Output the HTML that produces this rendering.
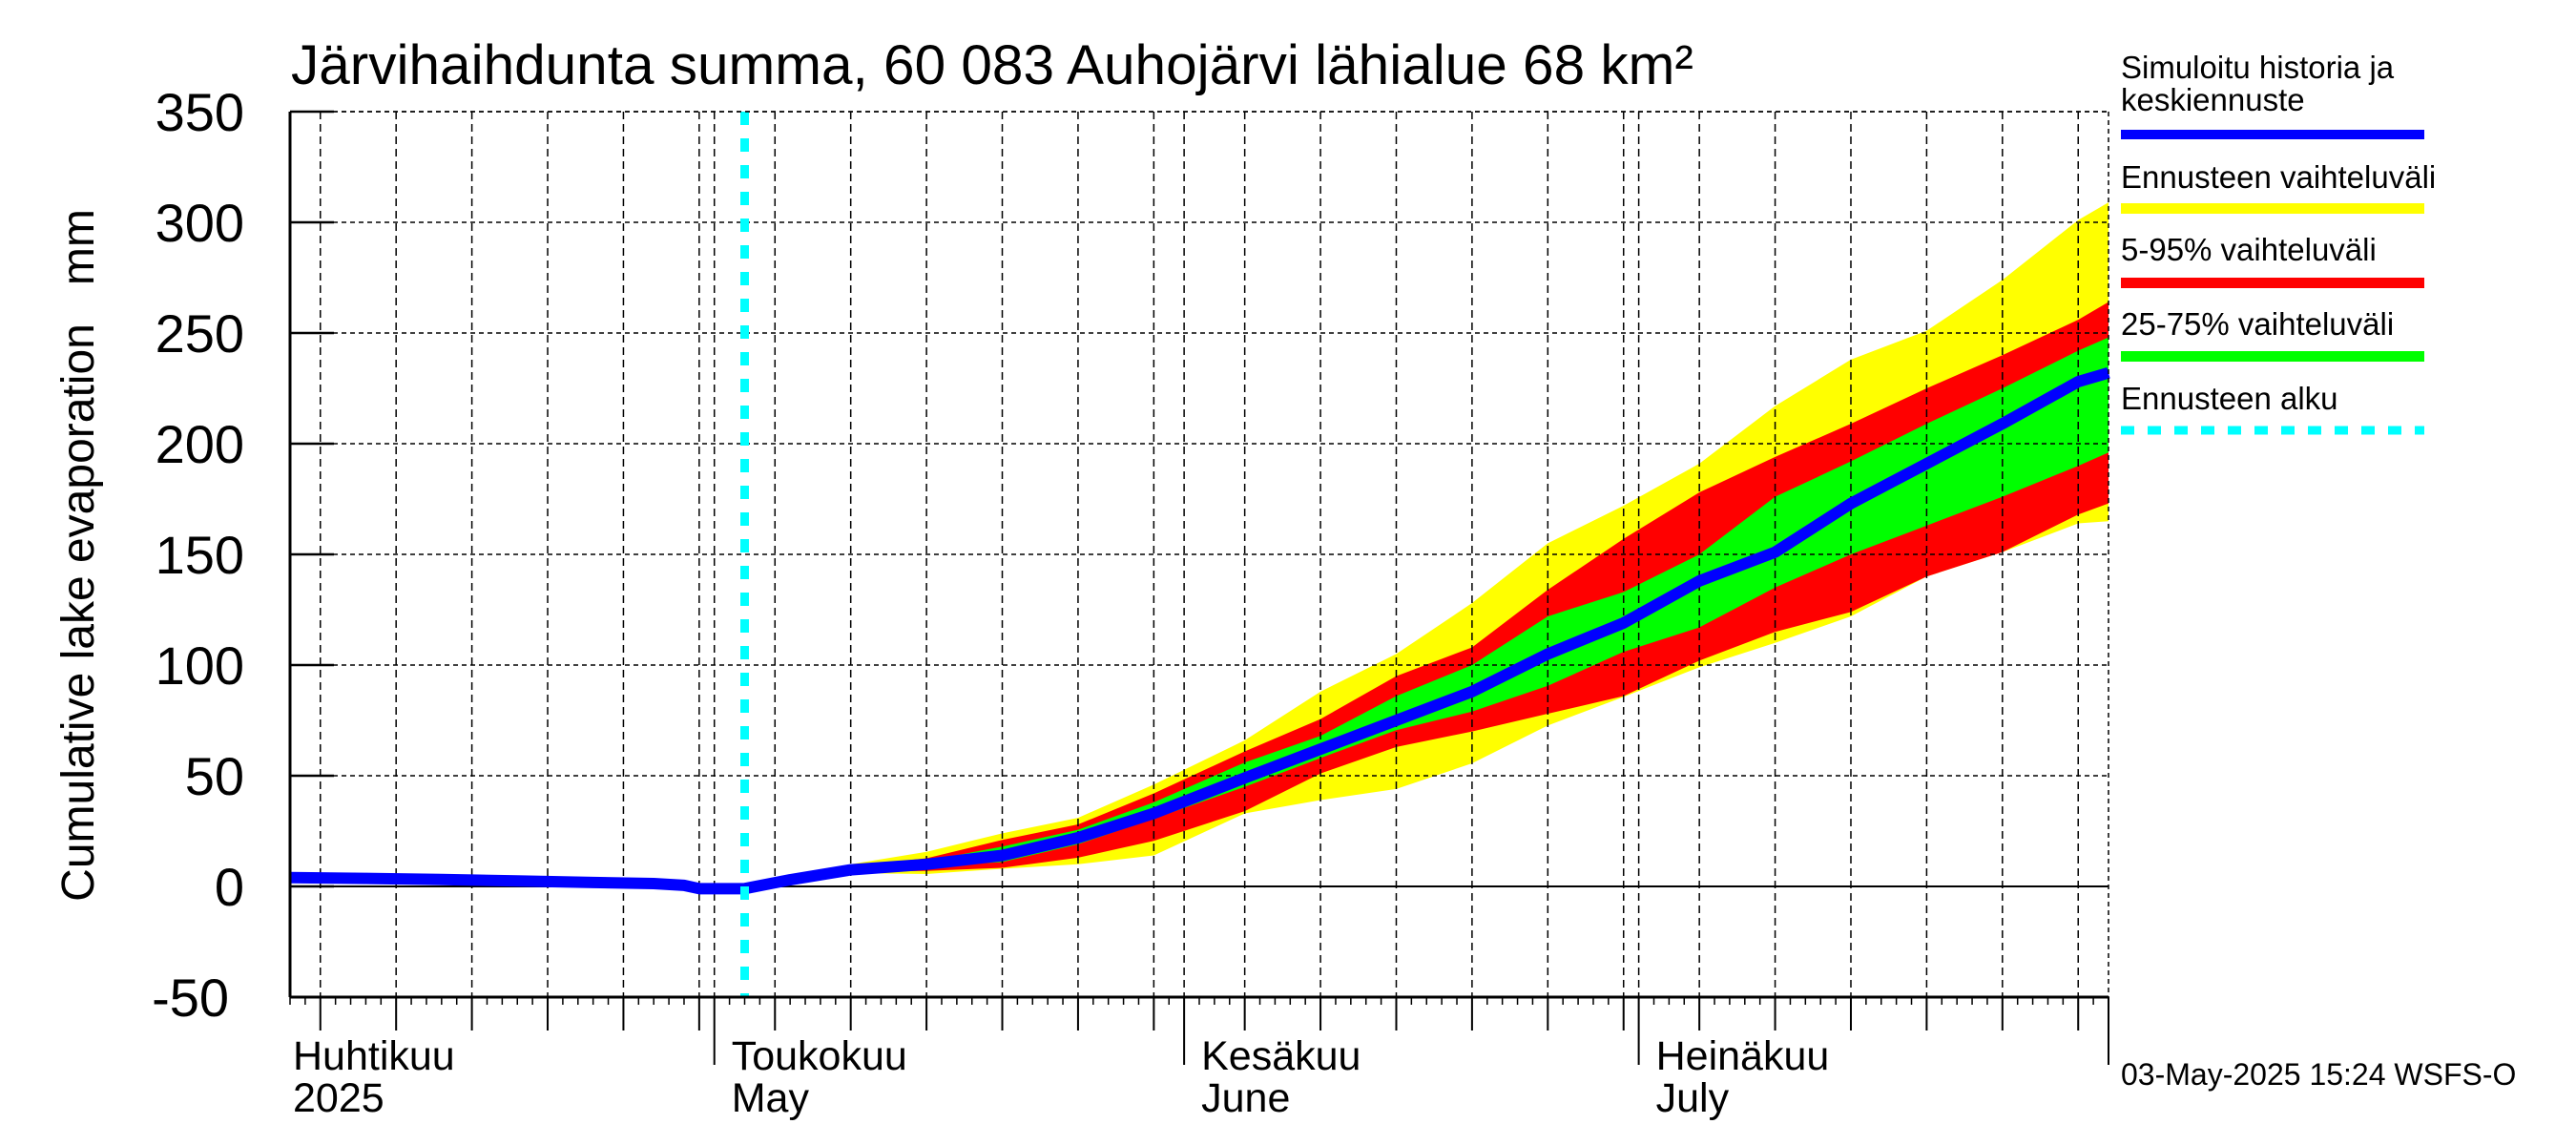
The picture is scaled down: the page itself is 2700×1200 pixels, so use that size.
<!DOCTYPE html>
<html><head><meta charset="utf-8"><style>
html,body{margin:0;padding:0;background:#fff;}
svg{display:block;font-family:"Liberation Sans",sans-serif;}
</style></head><body>
<svg id="chart" width="2700" height="1200" viewBox="0 0 2700 1200" xmlns="http://www.w3.org/2000/svg">
<text x="305" y="88" font-size="58.5">Järvihaihdunta summa, 60 083 Auhojärvi lähialue 68 km²</text>
<text transform="translate(98,582) rotate(-90)" text-anchor="middle" font-size="48" style="white-space:pre">Cumulative lake evaporation   mm</text>
<g id="bands"></g>
<g id="grid"></g>
<g id="lines"></g>
<g id="axes"></g>
<g>
<text x="2223" y="82" font-size="33">Simuloitu historia ja</text>
<text x="2223" y="116" font-size="33">keskiennuste</text>
<rect x="2223" y="136" width="318" height="10" fill="#0000ff"/>
<text x="2223" y="197" font-size="33">Ennusteen vaihteluväli</text>
<rect x="2223" y="213" width="318" height="11" fill="#ffff00"/>
<text x="2223" y="273" font-size="33">5-95% vaihteluväli</text>
<rect x="2223" y="291" width="318" height="11" fill="#ff0000"/>
<text x="2223" y="351" font-size="33">25-75% vaihteluväli</text>
<rect x="2223" y="368" width="318" height="11" fill="#00ff00"/>
<text x="2223" y="429" font-size="33">Ennusteen alku</text>
<line x1="2223" y1="451" x2="2541" y2="451" stroke="#00ffff" stroke-width="9" stroke-dasharray="14,14"/>
</g>
<text x="2223" y="1137" font-size="32">03-May-2025 15:24 WSFS-O</text>
</svg>
<script>
// day index 0 = Apr 3 2025, 120 = Aug 1 2025
const histDays = [0,5,10,15,20,24,26,27,30];
const histVals = [4,3.6,3.1,2.5,1.8,1.3,0.5,-1,-1];
const fcDays = [30,33,37,42,47,52,57,63,68,73,78,83,88,93,98,103,108,113,118,120];
const median = [-1,3,7.5,10,14,22,33,49,62,75,88,105,119,138,151,173,191,209,228,232];
const yellowTop = [-1,3.5,10,15.6,24,31,46,66,88,105,128,155,172,191,217,238,251,274,301,309];
const redTop = [-1,3,9,12.7,21,28,42,61,75.6,95,108,134,157,178,194,209,225,240,256,264];
const greenTop = [-1,3,8.5,11.5,18,25.6,38,56,68,86,100,122,133,150,176,192,209,225,242,248];
const greenBot = [-1,3,7,9,11,19,30.6,45,58,70.6,79,90.6,106,117,135,150,163,176,190,196];
const redBot = [-1,3,6.5,7,8.4,13,20.6,34,51,63,70,78,86,102,115,124,140,151,168,173];
const yellowBot = [-1,3,6,5.6,8,10,14,33,39,44,55.6,72.7,85.6,99,110,122,140,151,164,165];
const yTicks = [-50,0,50,100,150,200,250,300,350];
const monthStarts = [-2,28,59,89,120];
const monthFi = ["Huhtikuu","Toukokuu","Kesäkuu","Heinäkuu"];
const monthEn = ["2025","May","June","July"];
const forecastStartDay = 30;

const L=304,R=2210,T=117,B=1045,NDAYS=120,YMIN=-50,YMAX=350;
const X=d=>L+(d/NDAYS)*(R-L);
const Y=v=>B-(v-YMIN)/(YMAX-YMIN)*(B-T);
const NS="http://www.w3.org/2000/svg";
function mk(tag,attrs,parent){const e=document.createElementNS(NS,tag);for(const k in attrs)e.setAttribute(k,attrs[k]);parent.appendChild(e);return e;}
const bands=document.getElementById('bands'),grid=document.getElementById('grid'),lines=document.getElementById('lines'),axes=document.getElementById('axes');
function band(top,bot,color,name){
  let p=fcDays.map((d,i)=>X(d)+','+Y(top[i]));
  for(let i=fcDays.length-1;i>=0;i--)p.push(X(fcDays[i])+','+Y(bot[i]));
  const e=mk('polygon',{points:p.join(' '),fill:color},bands);
  
  
}
band(yellowTop,yellowBot,'#ffff00','band-full-range');
band(redTop,redBot,'#ff0000','band-5-95');
band(greenTop,greenBot,'#00ff00','band-25-75');
yTicks.forEach(v=>{
  if(v===YMIN)return;
  const g=mk('line',{x1:L,x2:R,y1:Y(v),y2:Y(v),stroke:'#000','stroke-width':v===0?2:1.5,'stroke-dasharray':v===0?'none':'5,4'},grid);
  
  
  const t=mk('line',{x1:L,x2:L+46,y1:Y(v),y2:Y(v),stroke:'#000','stroke-width':2.5},axes);
  
  
  const lb=mk('text',{x:256,y:Y(v)+20,'text-anchor':'end','font-size':56},axes);
  lb.textContent=v;
  
  
});
{const lb=mk('text',{x:240,y:Y(-50)+20,'text-anchor':'end','font-size':56},axes);lb.textContent='-50';

}
for(let d=0;d<=NDAYS;d++){
  let mi=0;for(let k=0;k<monthStarts.length;k++)if(d>=monthStarts[k])mi=k;
  const dom=d-monthStarts[mi]+1;
  let len=8;
  const isMonth=monthStarts.includes(d);
  const is5=(dom%5===0)&&!isMonth;
  if(isMonth)len=71;else if(is5)len=35;
  const t=mk('line',{x1:X(d),x2:X(d),y1:B,y2:B+len,stroke:'#000','stroke-width':isMonth||is5?2:1.5},axes);
  
  
  if((isMonth||is5)&&d>0&&d<NDAYS){
    const g=mk('line',{x1:X(d),x2:X(d),y1:T,y2:B,stroke:'#000','stroke-width':1.5,'stroke-dasharray':'8,5'},grid);
    
    
  }
}
for(let k=0;k<4;k++){
  const x=k===0?307:X(monthStarts[k])+18;
  const a=mk('text',{x:x,y:1121,'font-size':43},axes);a.textContent=monthFi[k];
  
  
  const b=mk('text',{x:x,y:1165,'font-size':43},axes);b.textContent=monthEn[k];
  
  
}
{
  const pts=histDays.map((d,i)=>X(d)+','+Y(histVals[i])).concat(fcDays.slice(1).map((d,i)=>X(d)+','+Y(median[i+1])));
  const m=mk('polyline',{points:pts.join(' '),fill:'none',stroke:'#0000ff','stroke-width':12,'stroke-linejoin':'round'},lines);
  
  
  const c=mk('line',{x1:X(forecastStartDay),x2:X(forecastStartDay),y1:T,y2:B,stroke:'#00ffff','stroke-width':9,'stroke-dasharray':'14,14'},lines);
  
  
}
{
  const a=mk('line',{x1:L,x2:L,y1:T,y2:B,stroke:'#000','stroke-width':3},axes);
  
  
  const b=mk('line',{x1:L,x2:R,y1:B,y2:B,stroke:'#000','stroke-width':3},axes);
  
  
  const r=mk('line',{x1:R,x2:R,y1:T,y2:B,stroke:'#000','stroke-width':1.5,'stroke-dasharray':'5,4'},axes);
  
  
  const t=mk('line',{x1:L,x2:R,y1:T,y2:T,stroke:'#000','stroke-width':1.5,'stroke-dasharray':'5,4'},axes);
  
  
}
</script>
</body></html>
